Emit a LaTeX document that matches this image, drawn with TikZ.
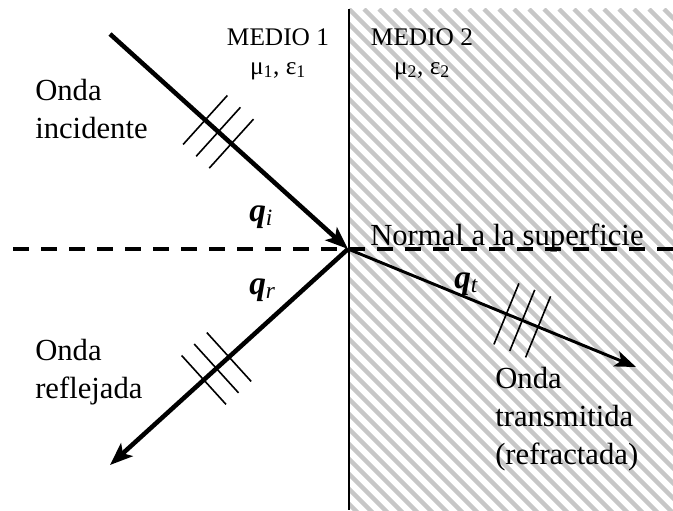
\documentclass[tikz,border=0pt]{standalone}
\usepackage{fontspec}
\setmainfont{Liberation Serif}
\usetikzlibrary{arrows.meta,calc}

\tikzset{
  ray/.style={line width=3.4pt,-{Stealth[length=17pt,width=13pt,inset=4pt]}},
  thinray/.style={line width=2.2pt,-{Stealth[length=16pt,width=12pt,inset=4pt]}},
  wavetick/.style={line width=1.2pt},
  hatch/.style={black!22,line width=3.3pt},
  lbl/.style={inner sep=0pt,align=left,font=\fontsize{23}{28.5}\selectfont},
  medlbl/.style={inner sep=0pt,align=center,font=\fontsize{19}{21.75}\selectfont},
  anglbl/.style={inner sep=0pt,font=\fontsize{25}{28}\selectfont\bfseries\itshape},
}

\begin{document}
\begin{tikzpicture}[x=0.75pt,y=-0.75pt]
  \useasboundingbox (0,0) rectangle (673,510);
  % medio 2: rayado
  \begin{scope}
    \clip (349,9) rectangle (673,510);
    \foreach \k in {-36,...,22}
      \draw[hatch] (349+15*\k,9) -- ++(520,520);
  \end{scope}
  \coordinate (topB) at (349,9);
  \coordinate (botB) at (349,510);
  \draw[line width=1.5pt] (topB) -- (botB);
  % normal
  \coordinate (dashL) at (13,249);
  \coordinate (dashR) at (673,249);
  \draw[line width=2.4pt,dash pattern=on 12pt off 9pt] (dashL) -- (dashR);
  % rayos
  \coordinate (O) at (348,249);
  \coordinate (inc) at (110,34);
  \coordinate (ref) at (110,465);
  \coordinate (tra) at (636,367);
  \draw[ray] (inc) -- (O);
  \draw[ray] (O) -- (ref);
  \draw[thinray] (O) -- (tra);
  % frentes de onda
  \foreach \t in {0.40,0.455,0.51} {
    \coordinate (p) at ($(inc)!\t!(O)$);
    \draw[wavetick] ($(p)!24.75pt!90:(O)$) -- ($(p)!24.75pt!-90:(O)$);
  }
  \foreach \t in {0.50,0.553,0.606} {
    \coordinate (p) at ($(O)!\t!(ref)$);
    \draw[wavetick] ($(p)!24.75pt!90:(ref)$) -- ($(p)!24.75pt!-90:(ref)$);
  }
  \foreach \t in {0.55,0.605,0.66} {
    \coordinate (p) at ($(O)!\t!(tra)$);
    \draw[wavetick] ($(p)!24.75pt!90:(tra)$) -- ($(p)!24.75pt!-90:(tra)$);
  }
  % textos
  \node[lbl,anchor=north west] (incT) at (35,79) {Onda\\incidente};
  \node[lbl,anchor=north west] (refT) at (35,339) {Onda\\reflejada};
  \node[lbl,anchor=north west] (traT) at (495,367) {Onda\\transmitida\\(refractada)};
  \node[medlbl,anchor=north] (med1) at (278,28) {MEDIO 1\\μ\textsubscript{1}, ε\textsubscript{1}};
  \node[medlbl,anchor=north] (med2) at (422,28) {MEDIO 2\\μ\textsubscript{2}, ε\textsubscript{2}};
  \node[lbl,anchor=base west] (normT) at (370,245) {Normal a la superficie};
  \node[anglbl,anchor=base west] (qi) at (249,221) {q\textsubscript{\mdseries i}};
  \node[anglbl,anchor=base west] (qr) at (249,294) {q\textsubscript{\mdseries r}};
  \node[anglbl,anchor=base west] (qt) at (454,288) {q\textsubscript{\mdseries t}};
\end{tikzpicture}
\end{document}
